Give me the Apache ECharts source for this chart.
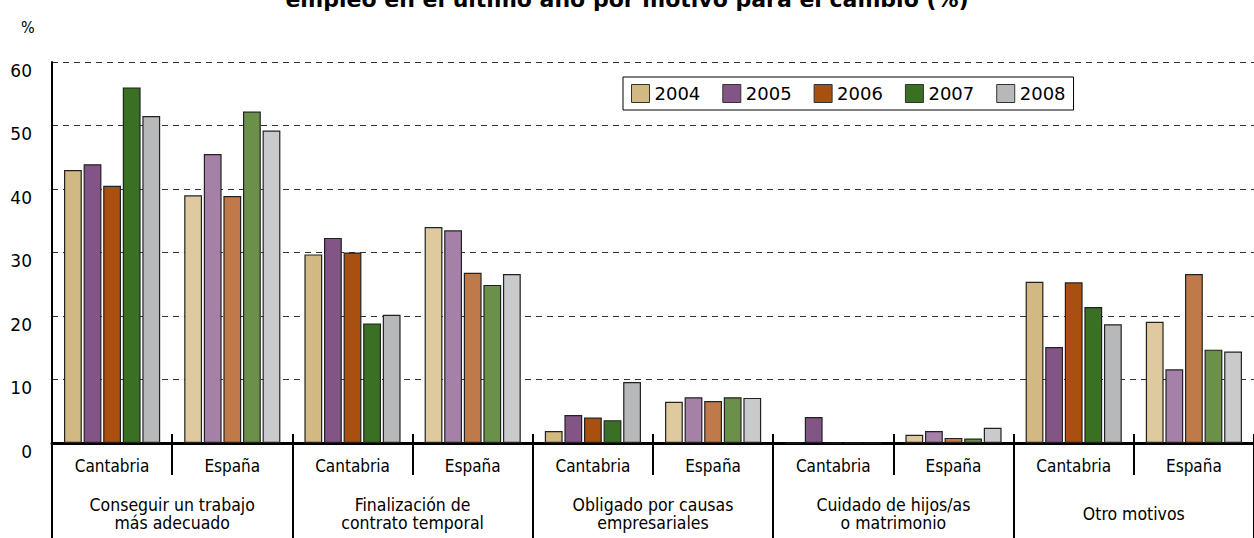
<!DOCTYPE html>
<html><head><meta charset="utf-8">
<script src="https://cdn.jsdelivr.net/npm/echarts@6/dist/echarts.min.js"></script>
<style>html,body{margin:0;padding:0;background:#fff}#c{width:1254px;height:538px}</style>
</head><body><div id="c"></div>
<script>
const title = 'empleo en el último año por motivo para el cambio (%)';
const regions = ['Cantabria','España','Cantabria','España','Cantabria','España','Cantabria','España','Cantabria','España'];
const groups = ['Conseguir un trabajo\nmás adecuado','Finalización de\ncontrato temporal','Obligado por causas\nempresariales','Cuidado de hijos/as\no matrimonio','Otro motivos'];
const years = ['2004','2005','2006','2007','2008'];
const yTicks = [0,10,20,30,40,50,60];
const v2004 = [43.0, 39.0, 29.7, 34.0, 1.9, 6.5, 0, 1.3, 25.4, 19.1];
const v2005 = [43.9, 45.5, 32.3, 33.5, 4.4, 7.2, 4.1, 1.9, 15.1, 11.6];
const v2006 = [40.5, 38.9, 30.0, 26.8, 4.0, 6.6, 0, 0.8, 25.3, 26.6];
const v2007 = [56.0, 52.2, 18.8, 24.9, 3.6, 7.2, 0, 0.7, 21.4, 14.7];
const v2008 = [51.5, 49.2, 20.2, 26.6, 9.6, 7.1, 0, 2.4, 18.7, 14.4];
const darkColors = ['#D2B983','#835587','#A94F10','#3A7023','#B7B8BA'];
const lightColors = ['#DECA9E','#A581A8','#C07A4A','#6A904A','#C9CACC'];
const values = [v2004, v2005, v2006, v2007, v2008];

const font = 'DejaVu Sans Condensed, DejaVu Sans, sans-serif';
const chart = echarts.init(document.getElementById('c'), null, {renderer: 'svg'});
const series = years.map((y, i) => ({
  name: y, type: 'bar', xAxisIndex: 0,
  barCategoryGap: '20%', barGap: '10%',
  itemStyle: {color: darkColors[i], borderColor: '#222', borderWidth: 1.2},
  data: values[i].map((v, k) => (k % 2 === 1) ? {value: v, itemStyle: {color: lightColors[i]}} : v),
  emphasis: {disabled: true}
}));
chart.setOption({
  animation: false,
  title: {text: title, left: 'center', top: -17, textStyle: {fontFamily: 'DejaVu Sans', fontWeight: 'bold', fontSize: 22, color: '#000'}},
  graphic: [{type: 'text', left: 21, top: 19, style: {text: '%', fontFamily: font, fontSize: 16, fill: '#000'}}],
  legend: {
    data: years, left: 623, top: 77, icon: 'rect', itemWidth: 18, itemHeight: 18, itemGap: 22,
    padding: [7, 8, 7, 8], borderColor: '#000', borderWidth: 1,
    itemStyle: {borderColor: '#333', borderWidth: 1},
    textStyle: {fontFamily: 'DejaVu Sans', fontSize: 18, color: '#000'}
  },
  grid: {left: 52, top: 62, width: 1208, height: 381, containLabel: false},
  xAxis: [
    {type: 'category', data: regions, position: 'bottom',
     axisLine: {show: true, lineStyle: {color: '#000', width: 3}},
     axisTick: {show: true, interval: 0, length: 32, lineStyle: {color: '#000', width: 2}},
     axisLabel: {interval: 0, margin: 14, fontFamily: font, fontSize: 17, color: '#000'}},
    {type: 'category', data: regions, position: 'bottom',
     axisLine: {show: false}, axisLabel: {show: false},
     axisTick: {show: true, inside: true, interval: 0, length: 9, lineStyle: {color: '#000', width: 2}}},
    {type: 'category', data: groups, position: 'bottom',
     axisLine: {show: false},
     axisTick: {show: true, interval: 0, length: 96, lineStyle: {color: '#000', width: 2}},
     axisLabel: {interval: 0, margin: 71, verticalAlign: 'middle', lineHeight: 18, fontFamily: font, fontSize: 17.5, color: '#000'}}
  ],
  yAxis: {
    type: 'value', min: 0, max: 60, interval: 10,
    axisLine: {show: true, lineStyle: {color: '#000', width: 2}},
    axisTick: {show: false},
    splitLine: {show: true, lineStyle: {color: '#333', width: 1, type: [6, 5]}},
    axisLabel: {margin: 20, fontFamily: 'DejaVu Sans', fontSize: 17, color: '#000', verticalAlign: 'top',
      formatter: v => yTicks.includes(v) ? String(v) : ''}
  },
  series: series
});
</script></body></html>
